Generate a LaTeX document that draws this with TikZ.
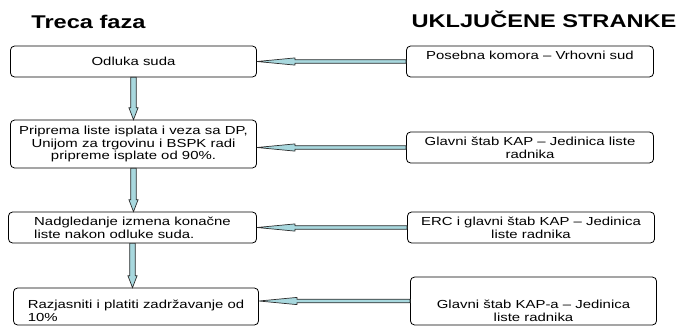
\documentclass[tikz,border=0pt]{standalone}
\usepackage{fontspec}
\setmainfont{Liberation Sans}[FakeStretch=1.28]
\usepackage{tikz}
\usetikzlibrary{calc}

\definecolor{arrowfill}{RGB}{168,216,222}
\definecolor{arrowline}{RGB}{45,45,45}

% block arrow from a party box (right) to a phase box (left)
\newcommand{\linkh}[2]{%
	\filldraw[blockarrow] ($(#1.west)+(0,-1.8)$) -- ($(#2.east|-#1.west)+(38,-1.8)$)
	-- ($(#2.east|-#1.west)+(38,-3.6)$) -- (#2.east|-#1.west)
	-- ($(#2.east|-#1.west)+(38,3.6)$) -- ($(#2.east|-#1.west)+(38,1.8)$)
	-- ($(#1.west)+(0,1.8)$) -- cycle;}
% block arrow from one phase box down to the next
\newcommand{\linkv}[2]{%
	\filldraw[blockarrow] ($(#1.south)+(-2.8,0)$) -- ($(#2.north-|#1.south)+(-2.8,-12)$)
	-- ($(#2.north-|#1.south)+(-4.6,-12)$) -- (#2.north-|#1.south)
	-- ($(#2.north-|#1.south)+(4.6,-12)$) -- ($(#2.north-|#1.south)+(2.8,-12)$)
	-- ($(#1.south)+(2.8,0)$) -- cycle;}

\begin{document}
\begin{tikzpicture}[x=1bp, y=-1bp,
	every node/.style={font=\fontsize{11.7}{13}\selectfont},
	box/.style={draw=black, line width=0.8bp, rounded corners=4bp, inner sep=0pt, align=center},
	title/.style={font=\fontsize{18.5}{22}\selectfont\bfseries, anchor=base},
	blockarrow/.style={draw=arrowline, fill=arrowfill, line width=0.7bp, line join=miter}]
	\useasboundingbox (0,0) rectangle (698,327);
	
	% Titles
	\node[title] (phase) at (88.5,28) {Treca faza};
	\node[title] (parties) at (544,27) {UKLJUČENE STRANKE};
	
	% --- PHASE STEPS (left) ---
	\node[box, minimum width=247, minimum height=31] (odluka) at (133.5,61.5) {Odluka suda};
	\node[box, minimum width=247, minimum height=48] (priprema) at (133.5,144)
		{Priprema liste isplata i veza sa DP,\\Unijom za trgovinu i BSPK radi\\pripreme isplate od 90\%.};
	\node[box, align=left, minimum width=249, minimum height=31] (nadgledanje) at (132.5,227.5)
		{Nadgledanje izmena konačne\\liste nakon odluke suda.};
	\node[box, align=left, minimum width=246, minimum height=37] (razjasniti) at (136,306.5)
		{\rule{0pt}{17pt}Razjasniti i platiti zadržavanje od\\10\%};
	
	% --- PARTIES (right) ---
	\node[box, text depth=12.5bp, minimum width=248, minimum height=31] (komora) at (530,61.5)
		{Posebna komora – Vrhovni sud};
	\node[box, minimum width=248, minimum height=31] (stab) at (530,147.5)
		{Glavni štab KAP – Jedinica liste\\radnika};
	\node[box, minimum width=248, minimum height=31] (erc) at (531,227.5)
		{ERC i glavni štab KAP – Jedinica\\liste radnika};
	\node[box, minimum width=247, minimum height=48] (staba) at (533.5,301)
		{\rule{0pt}{28.5pt}Glavni štab KAP-a – Jedinica\\liste radnika};
	
	% Flow down
	\linkv{odluka}{priprema}
	\linkv{priprema}{nadgledanje}
	\linkv{nadgledanje}{razjasniti}
	
	% Parties to steps
	\linkh{komora}{odluka}
	\linkh{stab}{priprema}
	\linkh{erc}{nadgledanje}
	\linkh{staba}{razjasniti}
\end{tikzpicture}
\end{document}
